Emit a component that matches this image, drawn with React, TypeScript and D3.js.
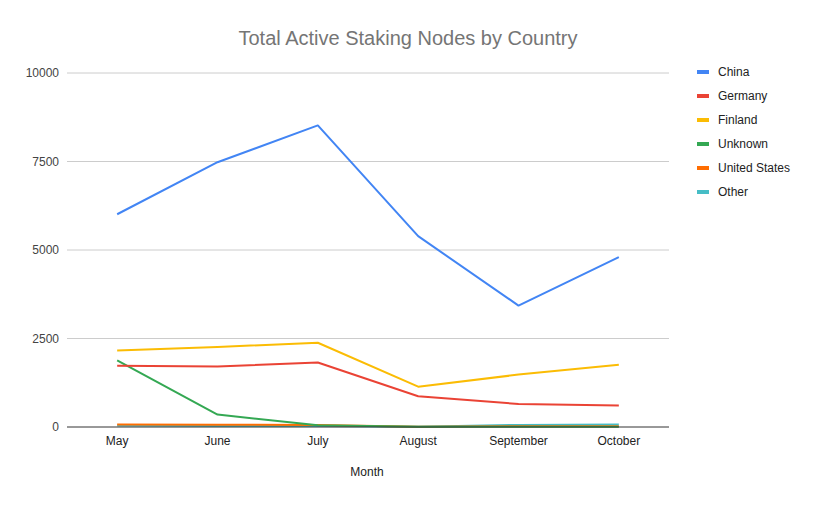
import React from "react";
import * as d3 from "d3";

const months = ["May", "June", "July", "August", "September", "October"];
const china = [6010, 7480, 8520, 5390, 3430, 4800];
const germany = [1730, 1710, 1820, 870, 650, 610];
const finland = [2160, 2260, 2380, 1140, 1480, 1760];
const unknown = [1880, 350, 50, 10, 10, 10];
const unitedStates = [70, 65, 60, 10, 20, 20];
const other = [40, 30, 30, 5, 60, 70];
const yTicks = [0, 2500, 5000, 7500, 10000];

const series = [
  { name: "China", values: china, color: "#4285F4" },
  { name: "Germany", values: germany, color: "#EA4335" },
  { name: "Finland", values: finland, color: "#FBBC04" },
  { name: "Unknown", values: unknown, color: "#34A853" },
  { name: "United States", values: unitedStates, color: "#FF6D01" },
  { name: "Other", values: other, color: "#46BDC6" },
];

export default function App() {
  const W = 816, H = 505;
  const left = 67, right = 669, top = 73, bottom = 427;
  const x = d3.scalePoint<string>().domain(months).range([left, right]).padding(0.5);
  const y = d3.scaleLinear().domain([0, 10000]).range([bottom, top]);
  const line = d3.line<number>().x((_, i) => x(months[i]) as number).y((d) => y(d));
  const font = "Arial, 'Liberation Sans', sans-serif";
  return (
    <svg width={W} height={H} style={{ position: "absolute", left: 0, top: 0, background: "#fff" }} fontFamily={font}>
      <rect width={W} height={H} fill="#fff" />
      <text x={408} y={45} textAnchor="middle" fontSize={20} fill="#757575">Total Active Staking Nodes by Country</text>
      {yTicks.map((t) => (
        <g key={t}>
          {t > 0 && <line x1={left} x2={right} y1={y(t)} y2={y(t)} stroke="#cccccc" strokeWidth={1} />}
          <text x={59} y={y(t) + 4} textAnchor="end" fontSize={12} fill="#444">{t}</text>
        </g>
      ))}
      {[...series].reverse().map((s) => (
        <path key={s.name} d={line(s.values) || ""} fill="none" stroke={s.color} strokeWidth={2} strokeLinejoin="round" />
      ))}
      <line x1={left} x2={right} y1={bottom} y2={bottom} stroke="#333" strokeWidth={1} />
      {months.map((m) => (
        <text key={m} x={x(m)} y={445} textAnchor="middle" fontSize={12} fill="#222">{m}</text>
      ))}
      <text x={367} y={476} textAnchor="middle" fontSize={12} fill="#222">Month</text>
      {series.map((s, i) => (
        <g key={s.name} transform={`translate(697, ${72 + i * 24})`}>
          <rect x={0} y={-2} width={12} height={4} fill={s.color} />
          <text x={21} y={4} fontSize={12} fill="#222">{s.name}</text>
        </g>
      ))}
    </svg>
  );
}
